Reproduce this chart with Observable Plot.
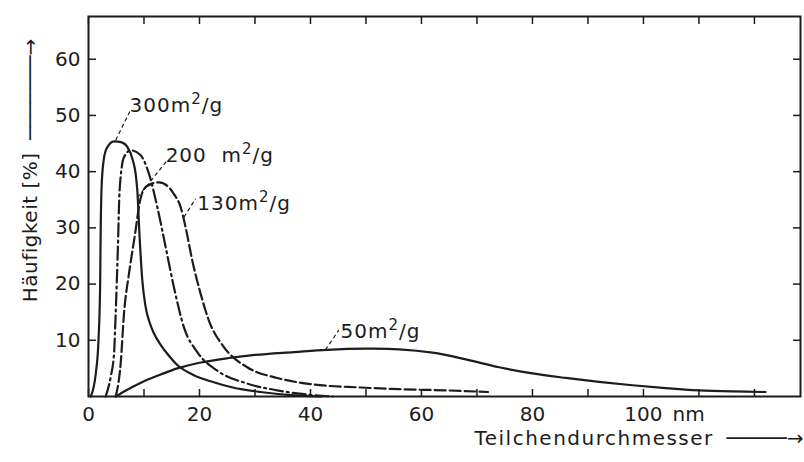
<!DOCTYPE html>
<html><head><meta charset="utf-8">
<script src="https://cdn.jsdelivr.net/npm/d3@7"></script>
<script src="https://cdn.jsdelivr.net/npm/@observablehq/plot@0.6"></script>
<style>body{margin:0;background:#fff}</style>
</head><body><div id="chart"></div>
<script>
// ---- data ----
const x300 = [0.4, 1.3, 1.8, 2.1, 2.2, 2.35, 2.7, 3.3, 4.6, 6.0, 7.0, 8.0, 8.5, 8.8, 9.2, 9.7, 10.3, 11.0, 11.8, 13.0, 14.2, 16.0, 19.0, 22.0, 26.0, 31.0, 36.0, 42.0];
const y300 = [0, 4, 10, 20, 30, 37, 41.8, 44.2, 45.4, 45.2, 44.4, 42.0, 39.6, 36.6, 28.5, 20.6, 15.9, 13.2, 11.2, 9.2, 7.6, 5.6, 3.8, 2.7, 1.6, 0.8, 0.3, 0];

const x200 = [3.1, 4.0, 4.6, 4.9, 5.3, 5.6, 6.4, 7.6, 9.4, 10.9, 12.4, 13.9, 15.4, 17.2, 19.6, 23.2, 28.6, 34.0, 38.0, 44.0];
const y200 = [0, 3.5, 7.6, 14.8, 26.6, 36.6, 42.6, 43.8, 42.9, 39.6, 33.7, 26.6, 19.4, 12.3, 7.9, 4.6, 2.3, 1.1, 0.5, 0];

const x130 = [4.9, 5.8, 6.4, 7.3, 8.3, 9.4, 10.5, 12.7, 14.5, 15.4, 16.6, 17.5, 18.7, 20.2, 21.7, 24.4, 28.6, 34.0, 40.0, 49.0, 56.0, 64.0, 72.0];
const y130 = [0, 5.9, 14.8, 21.9, 28.3, 35.3, 37.4, 38.1, 37.2, 36.0, 33.7, 30.1, 24.2, 18.3, 13.5, 8.8, 5.2, 3.3, 2.2, 1.6, 1.3, 1.1, 0.8];

const x50 = [4.9, 7, 10, 13, 16, 20, 25, 30, 37, 43, 50, 56, 62, 68, 74, 80, 86, 92, 98, 104, 110, 116, 122];
const y50 = [0, 1.2, 2.7, 3.9, 5.0, 6.0, 6.8, 7.4, 7.9, 8.3, 8.5, 8.4, 7.8, 6.6, 5.2, 4.1, 3.3, 2.6, 2.0, 1.5, 1.1, 0.9, 0.8];

// curve labels and their leader lines (data units)
const labelText = ["300m²/g", "200  m²/g", "130m²/g", "50m²/g"];
const labelX = [7.4, 13.9, 19.6, 45.4];
const labelY = [51.8, 42.9, 34.3, 11.6];
const leaderX1 = [4.9, 8.8, 17.2, 42.7];
const leaderY1 = [45.6, 35.4, 31.9, 8.3];
const leaderX2 = [7.6, 14.2, 19.3, 45.1];
const leaderY2 = [51.0, 42.0, 35.2, 11.8];

// ticks and titles
const xTickMarks = d3.range(0, 130, 10);
const xTickLabels = [0, 20, 40, 60, 80, 100];
const xUnitAt = [100];
const xUnit = "nm";
const yTickMarks = [10, 20, 30, 40, 50, 60];
const yTitleWord = "Häufigkeit [%]";
const xTitleWord = "Teilchendurchmesser";
const yArrow = "  ───────→";
const xArrow = "  ─────→";

// ---- build ----
const rows = (xs, ys) => xs.map((x, i) => ({x, y: ys[i]}));
const labels = labelText.map((t, i) => ({t, x: labelX[i], y: labelY[i]}));
const leaders = leaderX1.map((x1, i) => ({x1, y1: leaderY1[i], x2: leaderX2[i], y2: leaderY2[i]}));

const ink = "#1c1c1c";
const lw = 2.2;
const font = 20;

const plot = Plot.plot({
  width: 804, height: 462,
  marginLeft: 88, marginRight: 4, marginTop: 16, marginBottom: 66,
  style: {fontFamily: "DejaVu Sans", fontSize: "20px", color: ink, background: "#fff"},
  x: {domain: [0, 128.3]},
  y: {domain: [0, 67.6]},
  marks: [
    Plot.frame({stroke: ink, strokeWidth: 2}),
    Plot.axisX(xTickMarks, {tickSize: -7, tickFormat: () => "", label: null, stroke: ink, strokeWidth: 1.5}),
    Plot.axisX(xTickMarks, {anchor: "top", tickSize: -7, tickFormat: () => "", label: null, stroke: ink, strokeWidth: 1.5}),
    Plot.axisX(xTickLabels, {tickSize: 0, tickPadding: 10, label: null, fontSize: font, fill: ink}),
    Plot.text([xUnit], {x: xUnitAt, y: [0], text: d => d, dx: 29, dy: 10, lineAnchor: "top", textAnchor: "start", fontSize: font, fill: ink, clip: false}),
    Plot.axisY(yTickMarks, {tickSize: -8, tickFormat: () => "", label: null, stroke: ink, strokeWidth: 1.5}),
    Plot.axisY(yTickMarks, {anchor: "right", tickSize: -8, tickFormat: () => "", label: null, stroke: ink, strokeWidth: 1.5}),
    Plot.axisY(yTickMarks, {tickSize: 0, tickPadding: 8, label: null, fontSize: font, fill: ink}),
    Plot.line(rows(x300, y300), {x: "x", y: "y", curve: "monotone-x", stroke: ink, strokeWidth: lw}),
    Plot.line(rows(x200, y200), {x: "x", y: "y", curve: "monotone-x", stroke: ink, strokeWidth: lw, strokeDasharray: "13,4,2,4"}),
    Plot.line(rows(x130, y130), {x: "x", y: "y", curve: "monotone-x", stroke: ink, strokeWidth: lw, strokeDasharray: "11,4"}),
    Plot.line(rows(x50, y50), {x: "x", y: "y", curve: "catmull-rom", stroke: ink, strokeWidth: lw}),
    Plot.link(leaders, {x1: "x1", y1: "y1", x2: "x2", y2: "y2", stroke: ink, strokeWidth: 1.2, strokeDasharray: "4,3"}),
    Plot.text(labels, {x: "x", y: "y", text: "t", textAnchor: "start", fontSize: font, fill: ink}),
    Plot.text([yTitleWord + yArrow], {frameAnchor: "left", text: d => d, textAnchor: "middle", rotate: -90, dx: -58, dy: -36, fontSize: font, fill: ink}),
    Plot.text([xTitleWord + xArrow], {frameAnchor: "bottom-right", text: d => d, textAnchor: "end", dx: 3, dy: 48, fontSize: font, fill: ink})
  ]
});

const svg = d3.select(plot);
// raise the "2" in m²/g like the original lettering
svg.selectAll("text").each(function () {
  const s = this.textContent;
  if (!s.includes("²")) return;
  const [a, b] = s.split("²");
  const t = d3.select(this);
  t.text(null).style("letter-spacing", "1px");
  t.append("tspan").text(a);
  t.append("tspan").attr("dy", -8).attr("font-size", 15).text("2");
  t.append("tspan").attr("dy", 8).text(b);
});
// the original lettering is spaced wider than DejaVu; keep the arrow strokes joined
[[xTitleWord, xArrow, "1.5px"], [yTitleWord, yArrow, "0.5px"]].forEach(([w, a, ls]) => {
  svg.selectAll("text").filter(function () { return this.textContent === w + a; }).each(function () {
    const t = d3.select(this);
    t.text(null);
    t.append("tspan").style("letter-spacing", ls).text(w);
    t.append("tspan").style("letter-spacing", "0px").text(a);
  });
});

document.getElementById("chart").append(plot);
</script>
</body></html>
